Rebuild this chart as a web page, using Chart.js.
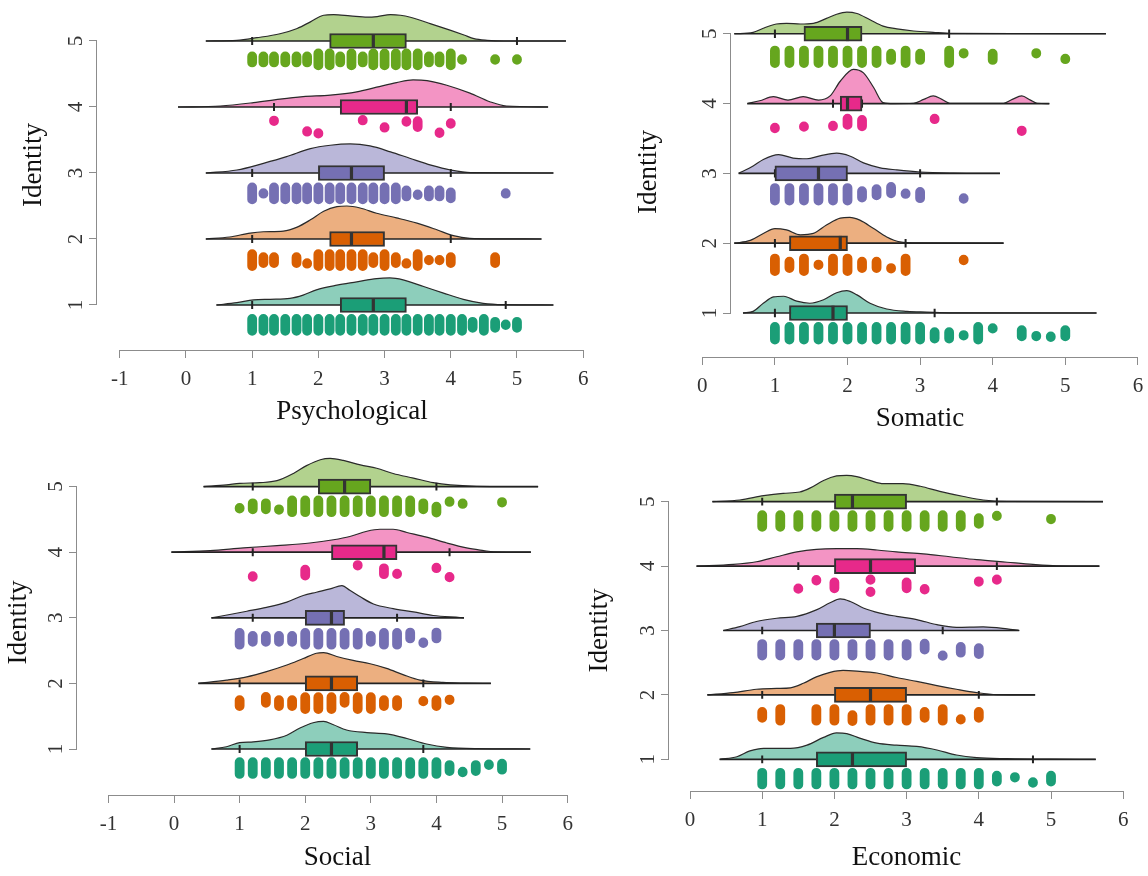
<!DOCTYPE html>
<html>
<head>
<meta charset="utf-8">
<script src="https://cdn.jsdelivr.net/npm/chart.js@4.4.1/dist/chart.umd.min.js"></script>
<style>
html,body{margin:0;padding:0;background:#fff;overflow:hidden;width:1148px;height:876px;position:relative}
canvas{position:absolute;display:block}
</style>
</head>
<body>
<canvas id="cPsy"></canvas>
<canvas id="cSom"></canvas>
<canvas id="cSoc"></canvas>
<canvas id="cEco"></canvas>
<script>
// ---------------- DATA ----------------
const IDENTITY = [1, 2, 3, 4, 5];
const Y_TITLE = 'Identity';
const COLORS = ['#1B9E77', '#D95F02', '#7570B3', '#E7298A', '#66A61E'];
const FILLS = ['rgba(27,158,119,0.5)', 'rgba(217,95,2,0.5)', 'rgba(117,112,179,0.5)', 'rgba(231,41,138,0.5)', 'rgba(102,166,30,0.5)'];

const psyTicks = [-1, 0, 1, 2, 3, 4, 5, 6];
const somTicks = [0, 1, 2, 3, 4, 5, 6];
const socTicks = [-1, 0, 1, 2, 3, 4, 5, 6];
const ecoTicks = [0, 1, 2, 3, 4, 5, 6];

// Box stats per identity 1..5: [whiskerLow, Q1, median, Q3, whiskerHigh]
const psyBox = [[1.0, 2.33, 2.83, 3.33, 4.83], [1.0, 2.17, 2.5, 3.0, 4.0], [1.0, 2.0, 2.5, 3.0, 4.0], [1.33, 2.33, 3.33, 3.5, 4.0], [1.0, 2.17, 2.83, 3.33, 5.0]];
const somBox = [[1.0, 1.2, 1.8, 2.0, 3.2], [1.0, 1.2, 1.9, 2.0, 2.8], [1.0, 1.0, 1.6, 2.0, 3.0], [1.8, 1.9, 2.0, 2.2, 2.2], [1.0, 1.4, 2.0, 2.2, 3.4]];
const socBox = [[1.0, 2.0, 2.4, 2.8, 3.8], [1.0, 2.0, 2.4, 2.8, 3.8], [1.2, 2.0, 2.4, 2.6, 3.4], [1.2, 2.4, 3.2, 3.4, 4.2], [1.2, 2.2, 2.6, 3.0, 4.0]];
const ecoBox = [[1.0, 1.75, 2.25, 3.0, 4.75], [1.0, 2.0, 2.5, 3.0, 4.0], [1.0, 1.75, 2.0, 2.5, 3.5], [1.5, 2.0, 2.5, 3.125, 4.25], [1.0, 2.0, 2.25, 3.0, 4.25]];

// Extent of the density (baseline) per identity
const psyRange = [[0.46, 5.55], [0.30, 5.37], [0.30, 5.55], [-0.12, 5.47], [0.30, 5.74]];
const somRange = [[0.56, 5.43], [0.44, 4.15], [0.50, 4.10], [0.62, 4.78], [0.44, 5.56]];
const socRange = [[0.57, 5.43], [0.37, 4.83], [0.57, 4.42], [-0.04, 5.44], [0.45, 5.55]];
const ecoRange = [[0.41, 5.62], [0.24, 4.78], [0.46, 4.56], [0.09, 5.67], [0.31, 5.72]];

// Density curves: [value, density height]
const psyDensity = [
  [[0.46,0],[0.77,0.035],[1.02,0.076],[1.27,0.086],[1.57,0.10],[1.77,0.15],[1.97,0.23],[2.28,0.30],[2.58,0.35],[2.88,0.40],[3.08,0.41],[3.28,0.38],[3.59,0.28],[3.89,0.18],[4.19,0.086],[4.49,0.025],[4.8,0.005],[5.55,0]],
  [[0.30,0],[0.66,0.03],[0.97,0.09],[1.17,0.11],[1.47,0.12],[1.68,0.18],[1.88,0.29],[2.08,0.42],[2.28,0.49],[2.43,0.50],[2.63,0.47],[2.88,0.39],[3.18,0.32],[3.49,0.24],[3.79,0.14],[4.04,0.05],[4.29,0.01],[4.7,0.002],[5.37,0]],
  [[0.30,0],[0.77,0.045],[1.17,0.146],[1.52,0.247],[1.88,0.37],[2.18,0.42],[2.48,0.44],[2.78,0.41],[3.09,0.32],[3.39,0.22],[3.70,0.12],[4.0,0.045],[4.3,0.005],[5.55,0]],
  [[-0.12,0],[0.52,0.015],[1.02,0.066],[1.42,0.12],[1.77,0.157],[2.18,0.18],[2.58,0.23],[2.88,0.30],[3.18,0.37],[3.43,0.41],[3.64,0.40],[3.94,0.33],[4.29,0.21],[4.59,0.08],[4.84,0.015],[5.47,0]],
  [[0.30,0],[0.77,0.01],[1.07,0.05],[1.42,0.11],[1.68,0.19],[1.88,0.29],[2.08,0.39],[2.23,0.40],[2.48,0.38],[2.74,0.36],[2.89,0.37],[3.09,0.40],[3.24,0.39],[3.39,0.36],[3.70,0.26],[4.0,0.16],[4.2,0.09],[4.35,0.035],[4.55,0.01],[4.8,0],[5.74,0]]
];
const somDensity = [
  [[0.56,0],[0.70,0.024],[0.84,0.14],[0.98,0.23],[1.12,0.24],[1.30,0.17],[1.48,0.14],[1.67,0.19],[1.85,0.29],[1.99,0.32],[2.13,0.26],[2.31,0.14],[2.54,0.057],[2.82,0.024],[3.09,0.014],[3.45,0.003],[5.43,0]],
  [[0.44,0],[0.66,0.04],[0.84,0.14],[1.0,0.21],[1.16,0.19],[1.35,0.12],[1.53,0.14],[1.71,0.26],[1.90,0.36],[2.03,0.37],[2.17,0.33],[2.36,0.21],[2.54,0.09],[2.72,0.02],[3.0,0.005],[4.15,0]],
  [[0.50,0],[0.70,0.105],[0.84,0.20],[1.05,0.27],[1.25,0.22],[1.44,0.21],[1.62,0.25],[1.85,0.29],[2.03,0.25],[2.22,0.15],[2.45,0.08],[2.68,0.05],[3.0,0.02],[3.46,0.005],[4.10,0]],
  [[0.62,0],[0.79,0.04],[0.98,0.10],[1.18,0.05],[1.39,0.10],[1.60,0.05],[1.76,0.11],[1.90,0.32],[2.08,0.49],[2.22,0.44],[2.36,0.23],[2.49,0.014],[2.63,0],[2.91,0.005],[3.05,0.06],[3.18,0.11],[3.30,0.06],[3.41,0.005],[4.15,0.005],[4.27,0.06],[4.40,0.11],[4.52,0.05],[4.61,0.005],[4.78,0]],
  [[0.44,0],[0.70,0.02],[0.84,0.08],[1.02,0.14],[1.16,0.15],[1.35,0.14],[1.53,0.15],[1.71,0.22],[1.85,0.28],[1.99,0.31],[2.13,0.29],[2.31,0.20],[2.49,0.11],[2.68,0.07],[2.91,0.04],[3.18,0.02],[3.45,0.005],[5.56,0]]
];
const socDensity = [
  [[0.57,0],[0.80,0.035],[1.0,0.097],[1.21,0.11],[1.46,0.14],[1.72,0.21],[1.92,0.32],[2.12,0.40],[2.28,0.42],[2.43,0.37],[2.63,0.29],[2.94,0.25],[3.24,0.23],[3.55,0.16],[3.85,0.076],[4.16,0.025],[4.61,0.005],[5.43,0]],
  [[0.37,0],[0.80,0.05],[1.11,0.10],[1.41,0.18],[1.72,0.28],[1.97,0.38],[2.17,0.46],[2.28,0.47],[2.48,0.41],[2.73,0.35],[2.99,0.30],[3.24,0.23],[3.50,0.13],[3.75,0.05],[4.10,0.015],[4.46,0.005],[4.83,0]],
  [[0.57,0],[0.85,0.05],[1.11,0.10],[1.41,0.16],[1.72,0.24],[1.97,0.34],[2.17,0.39],[2.38,0.44],[2.56,0.49],[2.68,0.42],[2.84,0.32],[3.04,0.21],[3.34,0.14],[3.65,0.09],[3.95,0.035],[4.36,0.005],[4.42,0]],
  [[-0.04,0],[0.55,0.025],[1.06,0.066],[1.57,0.10],[2.07,0.14],[2.43,0.19],[2.68,0.24],[2.94,0.32],[3.14,0.35],[3.34,0.35],[3.55,0.30],[3.85,0.23],[4.16,0.14],[4.46,0.066],[4.72,0.025],[4.87,0.005],[5.44,0]],
  [[0.45,0],[0.80,0.025],[1.0,0.05],[1.31,0.06],[1.57,0.09],[1.82,0.20],[2.02,0.32],[2.23,0.41],[2.38,0.43],[2.58,0.40],[2.84,0.33],[3.09,0.28],[3.34,0.20],[3.65,0.13],[3.95,0.06],[4.21,0.025],[4.61,0.005],[5.55,0]]
];
const ecoDensity = [
  [[0.41,0],[0.65,0.04],[0.83,0.13],[1.02,0.17],[1.20,0.17],[1.39,0.17],[1.62,0.22],[1.85,0.34],[2.03,0.41],[2.17,0.40],[2.35,0.33],[2.59,0.25],[2.86,0.22],[3.14,0.20],[3.42,0.145],[3.69,0.067],[3.97,0.026],[4.39,0.01],[5.0,0.002],[5.62,0]],
  [[0.24,0],[0.60,0.036],[0.92,0.088],[1.20,0.10],[1.39,0.11],[1.57,0.18],[1.75,0.28],[1.94,0.35],[2.12,0.38],[2.31,0.37],[2.59,0.34],[2.86,0.27],[3.14,0.21],[3.42,0.145],[3.69,0.088],[3.97,0.036],[4.25,0.005],[4.78,0]],
  [[0.46,0],[0.69,0.06],[0.92,0.14],[1.20,0.19],[1.48,0.22],[1.75,0.32],[1.94,0.43],[2.08,0.49],[2.22,0.45],[2.40,0.35],[2.63,0.27],[2.86,0.22],[3.14,0.17],[3.42,0.09],[3.69,0.05],[4.06,0.057],[4.39,0.026],[4.56,0]],
  [[0.09,0],[0.60,0.026],[0.92,0.067],[1.20,0.145],[1.48,0.22],[1.75,0.26],[2.03,0.27],[2.31,0.27],[2.59,0.25],[2.86,0.22],[3.23,0.19],[3.60,0.145],[3.97,0.10],[4.39,0.06],[4.75,0.026],[5.08,0.005],[5.67,0]],
  [[0.31,0],[0.69,0.026],[1.02,0.093],[1.29,0.13],[1.52,0.15],[1.66,0.21],[1.85,0.33],[2.03,0.40],[2.17,0.41],[2.31,0.39],[2.49,0.33],[2.68,0.28],[2.95,0.28],[3.19,0.24],[3.46,0.16],[3.79,0.08],[4.06,0.026],[4.39,0.005],[5.72,0]]
];

// Raw points: [value, stacked count, optional jitter offset below the baseline]
const psyPoints = [
  [[1,3],[1.17,3],[1.33,3],[1.5,3],[1.67,3],[1.83,3],[2,3],[2.17,3],[2.33,3],[2.5,3],[2.67,3],[2.83,3],[3,3],[3.17,3],[3.33,3],[3.5,3],[3.67,3],[3.83,3],[4,3],[4.17,3],[4.33,2],[4.5,3],[4.67,2],[4.83,1],[5,2]],
  [[1,3],[1.17,2],[1.33,2],[1.67,2],[1.83,1,-0.37],[2,3],[2.17,3],[2.33,3],[2.5,3],[2.67,3],[2.83,2],[3,3],[3.17,2],[3.33,1,-0.37],[3.5,3],[3.67,1],[3.83,1],[4,2],[4.67,2]],
  [[1,3],[1.17,1],[1.33,3],[1.5,3],[1.67,3],[1.83,3],[2,3],[2.17,3],[2.33,3],[2.5,3],[2.67,3],[2.83,3],[3,3],[3.17,3],[3.33,2],[3.5,1,-0.33],[3.67,2],[3.83,2],[4,2,-0.34],[4.83,1]],
  [[1.33,1,-0.21],[1.83,1,-0.37],[2,1,-0.40],[2.67,1,-0.20],[3,1,-0.31],[3.33,1,-0.22],[3.5,2,-0.26],[3.83,1,-0.39],[4,1,-0.25]],
  [[1,2],[1.17,2],[1.33,2],[1.5,2],[1.67,2],[1.83,2],[2,3],[2.17,3],[2.33,2],[2.5,3],[2.67,2],[2.83,3],[3,3],[3.17,3],[3.33,3],[3.5,3],[3.67,2],[3.83,2],[4,3],[4.17,1],[4.67,1],[5,1]]
];
const somPoints = [
  [[1,3],[1.2,3],[1.4,3],[1.6,3],[1.8,3],[2,3],[2.2,3],[2.4,3],[2.6,3],[2.8,3],[3,3],[3.2,2,-0.32],[3.4,2,-0.32],[3.6,1,-0.32],[3.8,3],[4,1,-0.22],[4.4,2],[4.6,1,-0.33],[4.8,1,-0.34],[5,2]],
  [[1,3],[1.2,2],[1.4,3],[1.6,1],[1.8,3],[2,3],[2.2,2],[2.4,2],[2.6,1,-0.36],[2.8,3],[3.6,1,-0.24]],
  [[1,3],[1.2,3],[1.4,3],[1.6,3],[1.8,3],[2,3],[2.2,2],[2.4,2,-0.27],[2.6,2,-0.24],[2.8,1,-0.29],[3,2,-0.31],[3.6,1,-0.36]],
  [[1,1,-0.35],[1.4,1,-0.33],[1.8,1,-0.32],[2,2,-0.26],[2.2,2,-0.28],[3.2,1,-0.22],[4.4,1,-0.39]],
  [[1,3],[1.2,3],[1.4,3],[1.6,3],[1.8,3],[2,3],[2.2,3],[2.4,3],[2.6,2],[2.8,3],[3,2],[3.4,3],[3.6,1,-0.28],[4,2],[4.6,1,-0.28],[5,1,-0.36]]
];
const socPoints = [
  [[1,3],[1.2,3],[1.4,3],[1.6,3],[1.8,3],[2,3],[2.2,3],[2.4,3],[2.6,3],[2.8,3],[3,3],[3.2,3],[3.4,3],[3.6,3],[3.8,3],[4,3],[4.2,2],[4.4,1,-0.35],[4.6,2],[4.8,1,-0.24],[5,2,-0.27]],
  [[1,2],[1.4,2,-0.25],[1.6,2],[1.8,2],[2,3],[2.2,3],[2.4,3],[2.6,2,-0.25],[2.8,3],[3,3],[3.2,2],[3.4,2],[3.8,1,-0.27],[4,2],[4.2,1,-0.25]],
  [[1,3],[1.2,2],[1.4,2],[1.6,2],[1.8,2],[2,3],[2.2,3],[2.4,3],[2.6,3],[2.8,3],[3,2],[3.2,3],[3.4,3],[3.6,2,-0.27],[3.8,1,-0.38],[4,2,-0.27]],
  [[1.2,1,-0.37],[2,2,-0.31],[2.8,1,-0.20],[3.2,2,-0.29],[3.4,1,-0.33],[4,1,-0.24],[4.2,1,-0.38]],
  [[1,1,-0.33],[1.2,2],[1.4,2],[1.6,1,-0.35],[1.8,3],[2,3],[2.2,3],[2.4,3],[2.6,3],[2.8,3],[3,3],[3.2,3],[3.4,3],[3.6,3],[3.8,2],[4,2,-0.35],[4.2,1,-0.23],[4.4,1,-0.26],[5,1,-0.24]]
];
const ecoPoints = [
  [[1,3],[1.25,3],[1.5,3],[1.75,3],[2,3],[2.25,3],[2.5,3],[2.75,3],[3,3],[3.25,3],[3.5,3],[3.75,3],[4,3],[4.25,2],[4.5,1,-0.28],[4.75,1,-0.36],[5,2]],
  [[1,2],[1.25,3],[1.75,3],[2,3],[2.25,2,-0.36],[2.5,3],[2.75,3],[3,3],[3.25,2],[3.5,3],[3.75,1,-0.38],[4,2]],
  [[1,3],[1.25,3],[1.5,3],[1.75,3],[2,3],[2.25,3],[2.5,3],[2.75,3],[3,3],[3.25,2,-0.25],[3.5,1,-0.39],[3.75,2],[4,2,-0.32]],
  [[1.5,1,-0.35],[1.75,1,-0.22],[2,2,-0.30],[2.5,1,-0.21],[2.5,1,-0.40],[3,2,-0.30],[3.25,1,-0.36],[4,1,-0.24],[4.25,1,-0.21]],
  [[1,3],[1.25,3],[1.5,3],[1.75,3],[2,3],[2.25,3],[2.5,3],[2.75,3],[3,3],[3.25,3],[3.5,3],[3.75,3],[4,2],[4.25,1,-0.22],[5,1,-0.27]]
];
// default jitter centre below each baseline
const psyOffset = [-0.30, -0.32, -0.31, -0.28, -0.28];
const somOffset = [-0.29, -0.31, -0.30, -0.30, -0.33];
const socOffset = [-0.29, -0.30, -0.32, -0.30, -0.30];
const ecoOffset = [-0.30, -0.31, -0.30, -0.30, -0.30];

// ---------------- STYLE / LAYOUT ----------------
const AXIS_COLOR = '#8c8c8c';
const TICK_COLOR = '#333333';
const TITLE_COLOR = '#111111';
const FONT = "'Liberation Serif', 'Times New Roman', serif";
const STACK = 0.045;   // half-length added per stacked point
const BH = 0.105;      // median line half height
const WT = 0.06;       // whisker tick half height

Chart.defaults.font.family = FONT;

const panels = [
  {id:'cPsy', title:'Psychological', xTicks:psyTicks, dens:psyDensity, range:psyRange, box:psyBox, pts:psyPoints, off:psyOffset,
   cl:0, ct:-20, cw:607, ch:448, padR:0, yW:97, xH:78, xMin:-1.344, xMax:6.360, yMin:0.318, yMax:5.924, yTitlePad:18},
  {id:'cSom', title:'Somatic', xTicks:somTicks, dens:somDensity, range:somRange, box:somBox, pts:somPoints, off:somOffset,
   cl:620, ct:-13, cw:528, ch:448, padR:39, yW:111, xH:78, xMin:0.395, xMax:5.602, yMin:0.370, yMax:5.670, yTitlePad:13},
  {id:'cSoc', title:'Social', xTicks:socTicks, dens:socDensity, range:socRange, box:socBox, pts:socPoints, off:socOffset,
   cl:0, ct:450, cw:598, ch:424, padR:0, yW:77, xH:79, xMin:-1.479, xMax:6.463, yMin:0.299, yMax:5.558, yTitlePad:3},
  {id:'cEco', title:'Economic', xTicks:ecoTicks, dens:ecoDensity, range:ecoRange, box:ecoBox, pts:ecoPoints, off:ecoOffset,
   cl:574, ct:470, cw:574, ch:404, padR:4, yW:95, xH:83, xMin:-0.291, xMax:6.288, yMin:0.508, yMax:5.492, yTitlePad:10}
];

const axisLines = {
  id: 'axisLines',
  afterDraw(chart) {
    const ctx = chart.ctx, ca = chart.chartArea, sx = chart.scales.x, sy = chart.scales.y;
    const xt = sx.ticks, yt = sy.ticks;
    ctx.save();
    ctx.strokeStyle = AXIS_COLOR;
    ctx.lineWidth = 1;
    ctx.beginPath();
    const by = Math.round(ca.bottom) + 0.5;
    ctx.moveTo(sx.getPixelForValue(xt[0].value), by);
    ctx.lineTo(sx.getPixelForValue(xt[xt.length - 1].value), by);
    const lx = Math.round(ca.left) - 0.5;
    ctx.moveTo(lx, sy.getPixelForValue(yt[0].value));
    ctx.lineTo(lx, sy.getPixelForValue(yt[yt.length - 1].value));
    ctx.stroke();
    ctx.restore();
  }
};

function pointSegments(list, level, defOff) {
  const out = [];
  list.forEach(p => {
    const off = p.length > 2 ? p[2] : defOff;
    const half = Math.max(0.004, (p[1] - 1) * STACK);
    out.push({x: p[0], y: level + off - half}, {x: p[0], y: level + off + half}, {x: p[0], y: null});
  });
  return out;
}

function makeChart(P) {
  const cv = document.getElementById(P.id);
  cv.width = P.cw; cv.height = P.ch;
  cv.style.left = P.cl + 'px'; cv.style.top = P.ct + 'px';
  cv.style.width = P.cw + 'px'; cv.style.height = P.ch + 'px';
  const datasets = [];
  IDENTITY.forEach((lv, g) => {
    const b = P.box[g];
    datasets.push({type:'line', data:P.dens[g].map(d => ({x:d[0], y:lv + d[1]})), fill:{value:lv},
      backgroundColor:FILLS[g], borderColor:'#2a2a2a', borderWidth:1.2, pointRadius:0, tension:0.4,
      cubicInterpolationMode:'monotone', order:50, clip:false});
    datasets.push({type:'line', data:[{x:P.range[g][0], y:lv}, {x:P.range[g][1], y:lv}],
      borderColor:'#222', borderWidth:1.7, pointRadius:0, order:40, clip:false, fill:false});
    datasets.push({type:'line', data:[{x:b[0], y:lv - WT}, {x:b[0], y:lv + WT}, {x:b[0], y:null}, {x:b[4], y:lv - WT}, {x:b[4], y:lv + WT}],
      borderColor:'#222', borderWidth:2, pointRadius:0, order:35, clip:false, fill:false});
    datasets.push({type:'line', data:[{x:b[2], y:lv - BH}, {x:b[2], y:lv + BH}],
      borderColor:'#333', borderWidth:3.2, pointRadius:0, order:15, clip:false, fill:false});
    datasets.push({type:'line', data:pointSegments(P.pts[g], lv, P.off[g]),
      borderColor:COLORS[g], borderWidth:9.8, borderCapStyle:'round', pointRadius:0, order:10, clip:false, fill:false, spanGaps:false});
  });
  datasets.push({type:'bar', indexAxis:'y', data:P.box.map((b, g) => ({y:IDENTITY[g], x:[b[1], b[3]]})),
    backgroundColor:COLORS, borderColor:'#333', borderWidth:2, borderSkipped:false, barThickness:15, order:20, clip:false});

  const gridOpts = {display:true, drawOnChartArea:false, drawTicks:true, tickLength:8, color:AXIS_COLOR, lineWidth:1, offset:false};
  new Chart(cv, {
    type:'line',
    data:{datasets},
    options:{
      responsive:false, animation:false, devicePixelRatio:1, events:[],
      layout:{padding:{left:0, top:0, bottom:0, right:P.padR}},
      plugins:{legend:{display:false}, tooltip:{enabled:false}},
      scales:{
        x:{type:'linear', position:'bottom', min:P.xMin, max:P.xMax, offset:false,
          afterBuildTicks:s => { s.ticks = P.xTicks.map(v => ({value:v})); },
          afterFit:s => { s.height = P.xH; s.paddingLeft = 0; s.paddingRight = 0; },
          grid:gridOpts, border:{display:false},
          ticks:{autoSkip:false, maxRotation:0, minRotation:0, padding:9, color:TICK_COLOR, font:{size:21}, callback:v => String(v)},
          title:{display:true, text:P.title, color:TITLE_COLOR, font:{size:27}, padding:{top:0, bottom:0}}},
        y:{type:'linear', position:'left', min:P.yMin, max:P.yMax, offset:false,
          afterBuildTicks:s => { s.ticks = IDENTITY.map(v => ({value:v})); },
          afterFit:s => { s.width = P.yW; s.paddingTop = 0; s.paddingBottom = 0; },
          grid:gridOpts, border:{display:false},
          ticks:{autoSkip:false, minRotation:90, maxRotation:90, crossAlign:'center', padding:7, color:TICK_COLOR, font:{size:21}, callback:v => String(v)},
          title:{display:true, text:Y_TITLE, color:TITLE_COLOR, font:{size:27}, padding:{top:P.yTitlePad, bottom:0}}}
      }
    },
    plugins:[axisLines]
  });
}
panels.forEach(makeChart);
</script>
</body>
</html>
